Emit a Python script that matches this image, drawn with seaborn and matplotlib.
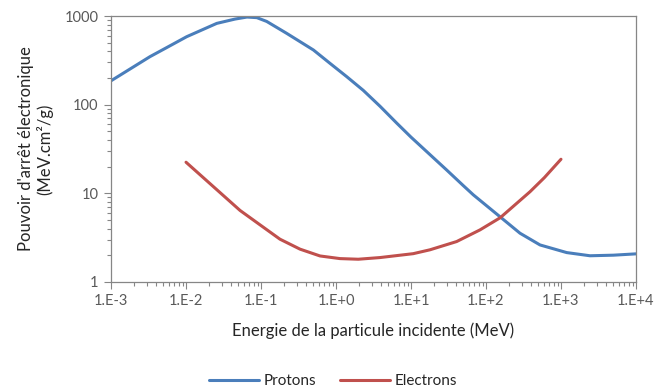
import pandas as pd
import seaborn as sns
import matplotlib.pyplot as plt
from matplotlib.ticker import LogLocator, FixedLocator, FuncFormatter, NullFormatter
import math

# Data (MeV, MeV.cm2/g)
proton_energy = [0.001, 0.0033, 0.0055, 0.0102, 0.0257, 0.045, 0.065, 0.088, 0.119, 0.22,
                 0.5, 0.83, 1.39, 2.31, 3.86, 6.44, 10, 17.9, 29.9, 49.8, 67.7, 155, 284, 525,
                 1191, 2437, 5000, 10000]
proton_stopping = [186, 348, 440, 585, 827, 925, 975, 960, 870, 638,
                   414, 293, 207, 145, 96, 62, 43, 27.3, 18.3, 12.2, 9.6, 5.4, 3.54, 2.61,
                   2.14, 1.97, 2.0, 2.07]

electron_energy = [0.01, 0.0231, 0.0525, 0.097, 0.179, 0.331, 0.612, 1.13, 1.98, 3.86, 10.7,
                   17.9, 40.6, 83.2, 155, 386, 600, 1000]
electron_stopping = [22.4, 11.9, 6.4, 4.4, 3.03, 2.34, 1.96, 1.83, 1.80, 1.88, 2.08,
                     2.30, 2.85, 3.86, 5.3, 10.4, 15, 24.2]

series_names = ["Protons", "Electrons"]
colors = ["#4A7EBB", "#C0504D"]

df = pd.concat([
    pd.DataFrame({"Energie": proton_energy, "Pouvoir": proton_stopping, "Particule": series_names[0]}),
    pd.DataFrame({"Energie": electron_energy, "Pouvoir": electron_stopping, "Particule": series_names[1]}),
])

sns.set_style("white")
plt.rcParams["font.family"] = ["Lato", "DejaVu Sans"]

fig = plt.figure(figsize=(6.57, 3.92), dpi=100)
ax = fig.add_axes([0.169, 0.281, 0.799, 0.678])

sns.lineplot(data=df, x="Energie", y="Pouvoir", hue="Particule", palette=colors,
             linewidth=2.2, sort=False, ax=ax)

ax.set_xscale("log")
ax.set_yscale("log")
ax.set_xlim(1e-3, 1e4)
ax.set_ylim(1, 1000)

# Tick styling like the Excel original
ax.xaxis.set_major_locator(FixedLocator([10.0 ** k for k in range(-3, 5)]))
ax.xaxis.set_minor_locator(LogLocator(base=10, subs=range(2, 10), numticks=20))
ax.yaxis.set_major_locator(FixedLocator([1, 10, 100, 1000]))
ax.yaxis.set_minor_locator(LogLocator(base=10, subs=range(2, 10), numticks=20))
ax.xaxis.set_major_formatter(FuncFormatter(lambda v, p: "1.E%+d" % round(math.log10(v))))
ax.yaxis.set_major_formatter(FuncFormatter(lambda v, p: "%d" % v))
ax.xaxis.set_minor_formatter(NullFormatter())
ax.yaxis.set_minor_formatter(NullFormatter())
ax.tick_params(axis="both", which="major", direction="out", length=5, width=0.8,
               color="#868686", labelcolor="#595959", labelsize=10.5, pad=4,
               bottom=True, left=True)
ax.tick_params(axis="both", which="minor", direction="out", length=3, width=0.8,
               color="#868686", bottom=True, left=True)
for side in ax.spines.values():
    side.set_color("#868686")
    side.set_linewidth(0.9)

ax.set_xlabel("Energie de la particule incidente (MeV)", fontsize=12, color="#262626", labelpad=10)
ax.set_ylabel("Pouvoir d'arrêt électronique\n(MeV.cm²/g)", fontsize=12, color="#262626", labelpad=8)

# Legend centred under the figure
sns.move_legend(ax, "center", bbox_to_anchor=(0.507, 0.028), bbox_transform=fig.transFigure,
                ncol=2, frameon=False, title=None, fontsize=11, handlelength=3.3,
                handletextpad=0.3, columnspacing=1.5)

fig.savefig("out.png", dpi=100)
